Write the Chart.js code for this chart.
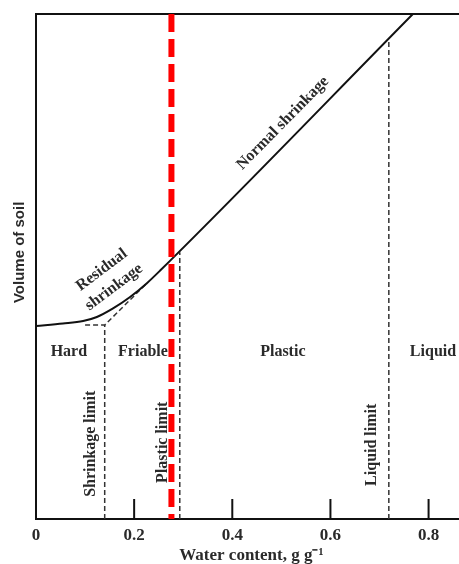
<!DOCTYPE html>
<html><head><meta charset="utf-8">
<script src="https://cdn.jsdelivr.net/npm/chart.js@4"></script>
<style>html,body{margin:0;padding:0;background:#fff}</style>
</head><body>
<canvas id="c" width="459" height="564" style="display:block"></canvas>
<script>
// Soil volume vs water content (normalised volume units)
const waterContent = [0, 0.055, 0.096, 0.124, 0.157, 0.191, 0.226, 0.253, 0.768];
const soilVolume   = [0.382, 0.387, 0.392, 0.400, 0.417, 0.439, 0.467, 0.492, 1.0];
// dashed extension of the normal-shrinkage line
const extensionX = [0.10, 0.14, 0.226];
const extensionY = [0.384, 0.384, 0.467];
// limits
const limitNames = ['Shrinkage limit', 'Plastic limit', 'Liquid limit'];
const limitX     = [0.14, 0.293, 0.719];
const limitTop   = [0.384, 0.528, 0.952];
const limitLabelX = [0.112, 0.259, 0.684];
const limitLabelY = [0.149, 0.152, 0.147];
// red marker line
const markerX = 0.276;
// ticks
const xTicks = [0, 0.2, 0.4, 0.6, 0.8];
// zones
const zoneNames = ['Hard', 'Friable', 'Plastic', 'Liquid'];
const zoneX = [0.067, 0.218, 0.503, 0.809];
const zoneY = 0.331;
// curve labels
const curveLabels  = ['Normal shrinkage', 'Residual', 'shrinkage'];
const curveLabelX  = [0.503, 0.134, 0.159];
const curveLabelY  = [0.784, 0.493, 0.459];
const curveLabelAngle = [-45.4, -37, -37];
// axis titles
const xTitle = 'Water content, g g\u207B\u00B9';
const yTitle = 'Volume of soil';
const xTitleAt = 0.439;
const yTitleAt = 0.528;

const FONT = "'Liberation Serif', 'Times New Roman', serif";
const SANS = "'Liberation Sans', Arial, sans-serif";
const TXT = '#2a2a2a';

const pts = (xs, ys) => xs.map((x, i) => ({ x, y: ys[i] }));

const datasets = [
  { data: [{ x: markerX, y: 1 }, { x: markerX, y: 0 }], borderColor: '#ff0000', borderWidth: 6, borderDash: [18, 7], pointRadius: 0 },
  { data: pts(waterContent, soilVolume), borderColor: '#111', borderWidth: 2, pointRadius: 0, cubicInterpolationMode: 'monotone' },
  { data: pts(extensionX, extensionY), borderColor: '#333', borderWidth: 1.5, borderDash: [5, 3], pointRadius: 0 },
];
limitX.forEach((x, i) => {
  datasets.push({ data: [{ x, y: 0 }, { x, y: limitTop[i] }], borderColor: '#333', borderWidth: 1.5, borderDash: [5, 3], pointRadius: 0 });
});

const annot = {
  id: 'annot',
  afterDraw(chart) {
    const { ctx, scales: { x, y } } = chart;
    ctx.save();
    // inner tick marks
    ctx.strokeStyle = '#111';
    ctx.lineWidth = 2;
    xTicks.forEach(v => {
      if (v === 0) return;
      const px = x.getPixelForValue(v);
      ctx.beginPath();
      ctx.moveTo(px, y.bottom);
      ctx.lineTo(px, y.bottom - 20);
      ctx.stroke();
    });
    ctx.fillStyle = TXT;
    ctx.textAlign = 'center';
    ctx.textBaseline = 'middle';
    const rot = (t, px, py, ang) => {
      ctx.save();
      ctx.translate(px, py);
      ctx.rotate(ang * Math.PI / 180);
      ctx.fillText(t, 0, 0);
      ctx.restore();
    };
    ctx.font = 'bold 16px ' + FONT;
    zoneNames.forEach((t, i) => {
      ctx.fillText(t, x.getPixelForValue(zoneX[i]), y.getPixelForValue(zoneY));
    });
    limitNames.forEach((t, i) => {
      rot(t, x.getPixelForValue(limitLabelX[i]), y.getPixelForValue(limitLabelY[i]), -90);
    });
    curveLabels.forEach((t, i) => {
      rot(t, x.getPixelForValue(curveLabelX[i]), y.getPixelForValue(curveLabelY[i]), curveLabelAngle[i]);
    });
    // axis titles
    ctx.font = 'bold 17px ' + FONT;
    ctx.fillText(xTitle, x.getPixelForValue(xTitleAt), y.bottom + 37);
    ctx.font = 'bold 15px ' + SANS;
    rot(yTitle, x.left - 16, y.getPixelForValue(yTitleAt), -90);
    ctx.restore();
  }
};

new Chart(document.getElementById('c'), {
  type: 'line',
  data: { datasets },
  options: {
    responsive: false,
    animation: false,
    layout: { padding: 0 },
    plugins: { legend: { display: false }, tooltip: { enabled: false } },
    scales: {
      x: {
        type: 'linear', position: 'bottom', min: 0, max: 0.862,
        afterBuildTicks: s => { s.ticks = xTicks.map(v => ({ value: v })); },
        afterFit: s => { s.height = 45; },
        grid: { display: false, drawTicks: false },
        border: { display: true, color: '#111', width: 2 },
        ticks: { padding: 6, maxRotation: 0, autoSkip: false, color: TXT, font: { family: FONT, size: 17, weight: 'bold' },
                 callback: v => String(v) }
      },
      x2: {
        type: 'linear', position: 'top', min: 0, max: 1, axis: 'x',
        afterFit: s => { s.height = 14; },
        grid: { display: false, drawTicks: false },
        border: { display: true, color: '#111', width: 2 },
        ticks: { display: false }
      },
      y: {
        type: 'linear', position: 'left', min: 0, max: 1,
        afterFit: s => { s.width = 36; },
        grid: { display: false, drawTicks: false },
        border: { display: true, color: '#111', width: 2 },
        ticks: { display: false }
      }
    }
  },
  plugins: [annot]
});
</script>
</body></html>
